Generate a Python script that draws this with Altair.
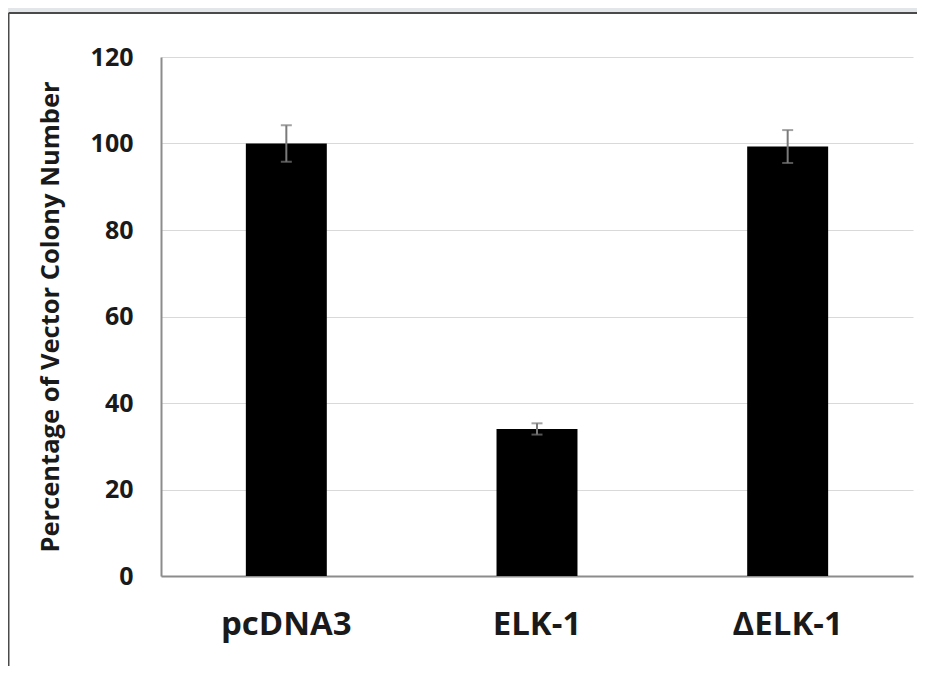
import altair as alt
import pandas as pd

categories = ["pcDNA3", "ELK-1", "ΔELK-1"]
values = [100.0, 34.0, 99.3]
errors = [4.2, 1.3, 3.8]
y_ticks = [0, 20, 40, 60, 80, 100, 120]

df = pd.DataFrame({
    "cat": categories,
    "val": values,
    "lo": [v - e for v, e in zip(values, errors)],
    "hi": [v + e for v, e in zip(values, errors)],
})

W, H = 752, 519
FONT = "Open Sans"

xenc = alt.X("cat:N", sort=categories, title=None,
             scale=alt.Scale(paddingInner=0.677, paddingOuter=0.3385),
             axis=alt.Axis(labelAngle=0, labelFont=FONT, labelFontSize=33,
                           labelFontWeight="bold", labelColor="#1a1a1a",
                           labelPadding=32, labelBaseline="top",
                           ticks=False, domainColor="#8c8c8c", domainWidth=2,
                           grid=False))

yscale = alt.Scale(domain=[0, 120], nice=False)

bars = alt.Chart(df).mark_bar(color="black").encode(
    x=xenc,
    y=alt.Y("val:Q", scale=yscale, title="Percentage of Vector Colony Number",
            axis=alt.Axis(values=y_ticks, labelFont=FONT, labelFontSize=25,
                          labelFontWeight="bold", labelColor="#1a1a1a",
                          labelPadding=28, ticks=False,
                          domainColor="#8c8c8c", domainWidth=2,
                          gridColor="#d9d9d9", gridWidth=1,
                          titleFont=FONT, titleFontSize=25.5, titleFontWeight="bold",
                          titleColor="#1a1a1a", titlePadding=27)),
)

err = alt.Chart(df).mark_rule(color="#7a7a7a", strokeWidth=2).encode(
    x=alt.X("cat:N", sort=categories),
    y=alt.Y("lo:Q", scale=yscale),
    y2="hi:Q",
)
cap_hi = alt.Chart(df).mark_tick(color="#7a7a7a", thickness=2, size=11).encode(
    x=alt.X("cat:N", sort=categories),
    y=alt.Y("hi:Q", scale=yscale),
)
cap_lo = alt.Chart(df).mark_tick(color="#7a7a7a", thickness=2, size=11).encode(
    x=alt.X("cat:N", sort=categories),
    y=alt.Y("lo:Q", scale=yscale),
)

one = alt.Data(values=[{"a": 1}])
gray_top = alt.Chart(one).mark_rect(color="#e2e6e8", clip=False).encode(
    x=alt.value(-160), x2=alt.value(W + 20), y=alt.value(-60), y2=alt.value(-45)
)
line_top = alt.Chart(one).mark_rule(color="#4a4a4a", strokeWidth=2, clip=False).encode(
    x=alt.value(-152.5), x2=alt.value(W + 20), y=alt.value(-44)
)
line_left = alt.Chart(one).mark_rule(color="#4a4a4a", strokeWidth=2, clip=False).encode(
    x=alt.value(-152.5), y=alt.value(-44), y2=alt.value(H + 120)
)

chart = alt.layer(gray_top, line_top, line_left, bars, err, cap_hi, cap_lo).properties(
    width=W, height=H,
    autosize=alt.AutoSizeParams(type="none"),
    padding={"left": 153, "top": 49, "right": 4, "bottom": 90},
    background="white",
).configure_view(stroke=None)

chart.save("out.html", embed_options={"renderer": "svg", "actions": False})
